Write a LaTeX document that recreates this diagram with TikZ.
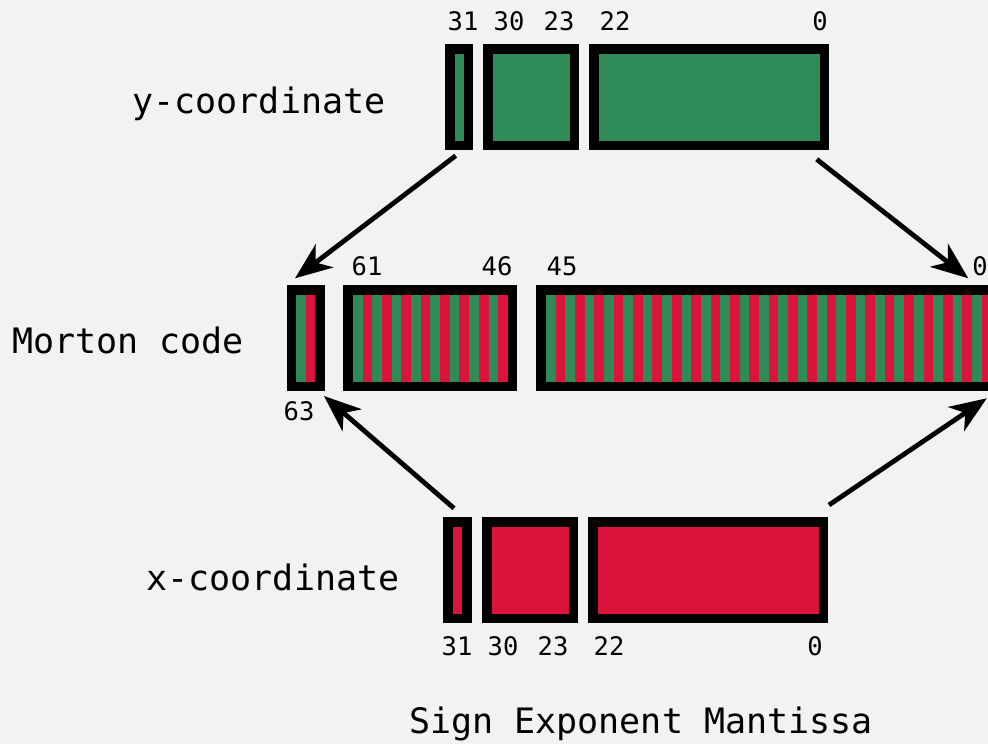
\documentclass[tikz,border=0pt]{standalone}
\usepackage{fontspec}
\setmonofont{DejaVu Sans Mono}
\usetikzlibrary{arrows.meta}
\definecolor{bgcol}{HTML}{F2F2F2}
\definecolor{ybit}{HTML}{2E8B57}
\definecolor{xbit}{HTML}{DC143C}
\tikzset{
  bitbox/.style={draw=black, line width=9.5pt, inner sep=0pt, minimum height=96.5pt},
  bignum/.style={anchor=base, inner sep=0pt, font=\ttfamily\fontsize{25.5}{29}\selectfont},
  title/.style={anchor=base, inner sep=0pt, font=\ttfamily\fontsize{35}{40}\selectfont},
  conn/.style={line width=4.8pt, -{Stealth[length=37pt, width=29pt, inset=11pt]}}
}
% interleaved bit stripes: #1 = left x of the inner area, #2 = number of bits
\newcommand{\stripes}[2]{%
  \foreach \i in {1,...,#2}{%
    \pgfmathtruncatemacro{\odd}{mod(\i,2)}%
    \ifnum\odd=1 \def\sc{ybit}\else\def\sc{xbit}\fi
    \fill[\sc] ({#1+(\i-1)*9.68},290) rectangle ({#1+\i*9.68},386);
  }%
}
\begin{document}
\begin{tikzpicture}[x=1pt, y=-1pt]
\fill[bgcol] (0,0) rectangle (988,744);
\useasboundingbox (0,0) rectangle (988,744);

% y-coordinate (float fields)
\node[bitbox, fill=ybit, minimum width=18.5pt]  (ys) at (459,97) {};
\node[bitbox, fill=ybit, minimum width=86.5pt]  (ye) at (531,97) {};
\node[bitbox, fill=ybit, minimum width=230.5pt] (ym) at (709,97) {};
\node[title] (ylab) at (259,113) {y-coordinate};
\node[bignum] (y31) at (463,30) {31};
\node[bignum] (y30) at (509,30) {30};
\node[bignum] (y23) at (559,30) {23};
\node[bignum] (y22) at (615,30) {22};
\node[bignum] (y0)  at (820,30) {0};

% x-coordinate (float fields)
\node[bitbox, fill=xbit, minimum width=19pt]    (xs) at (457.5,570) {};
\node[bitbox, fill=xbit, minimum width=86.5pt]  (xe) at (530,570) {};
\node[bitbox, fill=xbit, minimum width=230.5pt] (xm) at (708,570) {};
\node[title] (xlab) at (273,590) {x-coordinate};
\node[bignum] (x31) at (457,655) {31};
\node[bignum] (x30) at (503,655) {30};
\node[bignum] (x23) at (553,655) {23};
\node[bignum] (x22) at (609,655) {22};
\node[bignum] (x0)  at (815,655) {0};

% Morton code: interleaved bits
\stripes{296}{2}
\stripes{353}{16}
\stripes{546}{46}
\node[bitbox, minimum width=28.86pt] (ms) at (305.68,338) {};
\node[bitbox, minimum width=164.4pt] (mh) at (430.44,338) {};
\node[bitbox, minimum width=454.8pt] (ml) at (768.64,338) {};
\node[title] (mlab) at (128,353) {Morton code};
\node[bignum] (m61) at (367,275) {61};
\node[bignum] (m46) at (497,275) {46};
\node[bignum] (m45) at (562,275) {45};
\node[bignum] (m0)  at (980,275) {0};
\node[bignum] (m63) at (299,420) {63};

\node[title] (fields) at (641,733) {Sign Exponent Mantissa};

% connectors
\draw[conn] ([shift={(-3.3,5.7)}]ys.south) -- ([shift={(-10.7,-6.7)}]ms.north);
\draw[conn] ([shift={(-12.3,9.3)}]ym.south east) -- ([shift={(-32.5,-6.7)}]ml.north east);
\draw[conn] ([shift={(-3.5,-8.7)}]xs.north) -- ([shift={(-0.9,5)}]ms.south east);
\draw[conn] ([shift={(1,-12)}]xm.north east) -- ([shift={(-14,7.3)}]ml.south east);
\end{tikzpicture}
\end{document}
